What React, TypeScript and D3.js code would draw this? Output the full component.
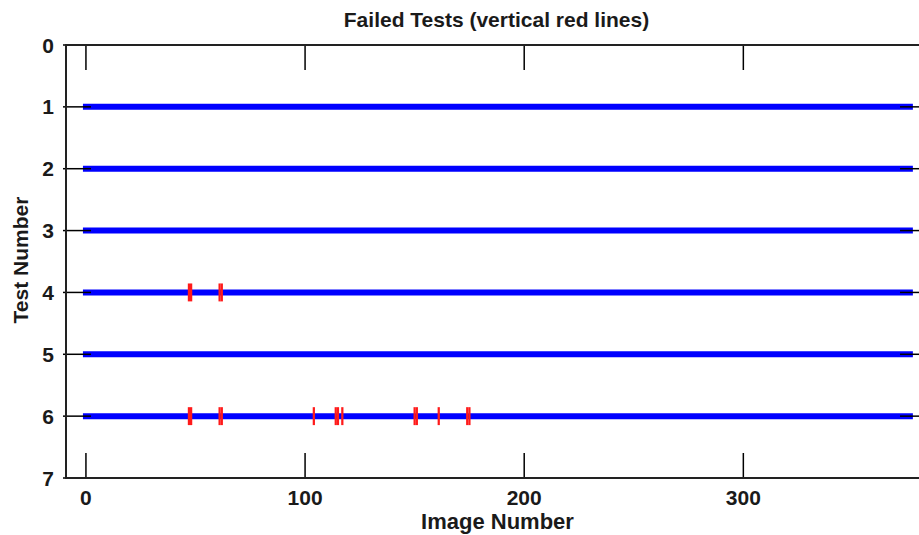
import React from "react";
import * as d3 from "d3";

const tests = [1, 2, 3, 4, 5, 6];
const imageCount = 377;
const yTicks = [0, 1, 2, 3, 4, 5, 6, 7];
const xTicks = [0, 100, 200, 300];
const failures4 = [47, 48, 61, 62];
const failures6 = [47, 48, 61, 62, 104, 114, 115, 117, 150, 151, 161, 174, 175];
const failuresByTest: { test: number; images: number[] }[] = [
  { test: 4, images: failures4 },
  { test: 6, images: failures6 },
];

const W = 919;
const H = 535;
const m = { left: 66, right: 925, top: 45, bottom: 478 };

export default function App() {
  const x = d3.scaleLinear().domain([-9.1, 382.9]).range([m.left, m.right]);
  const y = d3.scaleLinear().domain([0, 7]).range([m.top, m.bottom]);
  const font = "Arial, 'Liberation Sans', sans-serif";
  const tickLen = 25;
  const fs = 21;
  return (
    <svg
      width={W}
      height={H}
      style={{ position: "absolute", left: 0, top: 0, overflow: "hidden", background: "#fff" }}
    >
      {/* blue test lines */}
      {tests.map((t) => (
        <line
          key={t}
          x1={x(0)}
          x2={x(imageCount - 1)}
          y1={y(t)}
          y2={y(t)}
          stroke="#0000ff"
          strokeWidth={6}
          strokeLinecap="square"
        />
      ))}
      {/* red failures */}
      {failuresByTest.map((f) =>
        f.images.map((img, i) => (
          <line
            key={`${f.test}-${i}`}
            x1={x(img)}
            x2={x(img)}
            y1={y(f.test - 0.145)}
            y2={y(f.test + 0.145)}
            stroke="#ff1a1a"
            strokeWidth={2.25}
          />
        ))
      )}
      {/* y ticks */}
      {yTicks.map((t) => (
        <g key={t}>
          <line x1={m.left - 3} x2={m.left + tickLen} y1={y(t)} y2={y(t)} stroke="#000" strokeWidth={1.5} />
          <line x1={m.right - tickLen} x2={m.right + 3} y1={y(t)} y2={y(t)} stroke="#000" strokeWidth={1.5} />
          <text
            x={m.left - 12}
            y={y(t)}
            dy="0.36em"
            textAnchor="end"
            fontFamily={font}
            fontSize={fs}
            fontWeight="bold"
            fill="#1a1a1a"
          >
            {t}
          </text>
        </g>
      ))}
      {/* x ticks */}
      {xTicks.map((t) => (
        <g key={t}>
          <line x1={x(t)} x2={x(t)} y1={m.top} y2={m.top + tickLen} stroke="#000" strokeWidth={1.5} />
          <line x1={x(t)} x2={x(t)} y1={m.bottom - tickLen} y2={m.bottom} stroke="#000" strokeWidth={1.5} />
          <text
            x={x(t)}
            y={505}
            textAnchor="middle"
            fontFamily={font}
            fontSize={fs}
            fontWeight="bold"
            fill="#1a1a1a"
          >
            {t}
          </text>
        </g>
      ))}
      {/* axes box */}
      <rect
        x={m.left}
        y={m.top}
        width={m.right - m.left}
        height={m.bottom - m.top}
        fill="none"
        stroke="#222"
        strokeWidth={2}
      />
      {/* titles */}
      <text
        x={496.5}
        y={27}
        textAnchor="middle"
        fontFamily={font}
        fontSize={fs}
        fontWeight="bold"
        fill="#1a1a1a"
      >
        Failed Tests (vertical red lines)
      </text>
      <text
        x={497.5}
        y={529}
        textAnchor="middle"
        fontFamily={font}
        fontSize={22}
        fontWeight="bold"
        fill="#1a1a1a"
      >
        Image Number
      </text>
      <text
        transform={`translate(28, 260) rotate(-90)`}
        textAnchor="middle"
        fontFamily={font}
        fontSize={fs}
        fontWeight="bold"
        fill="#1a1a1a"
      >
        Test Number
      </text>
    </svg>
  );
}
